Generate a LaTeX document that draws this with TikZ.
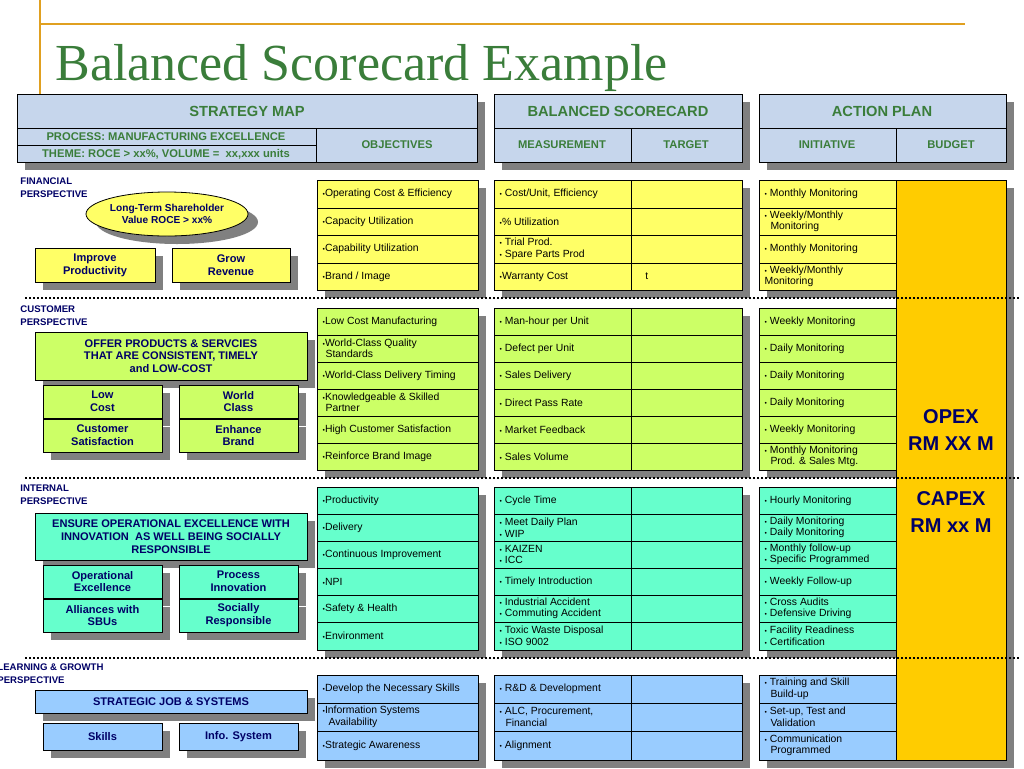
\documentclass[tikz,border=0pt]{standalone}
\usepackage{fontspec}
\setmainfont{Liberation Sans}
\newfontfamily\titlefont{Liberation Serif}
\definecolor{hdr}{HTML}{C6D6EC}
\definecolor{hgreen}{HTML}{3A7D3A}
\definecolor{yel}{HTML}{FFFF66}
\definecolor{lime}{HTML}{CCFF66}
\definecolor{aqua}{HTML}{66FFCC}
\definecolor{lblue}{HTML}{99CCFF}
\definecolor{orng}{HTML}{FFCC00}
\definecolor{navy}{HTML}{000066}
\definecolor{shd}{HTML}{808080}
\definecolor{tline}{HTML}{E0A020}
\newcommand\bu{{\fontsize{5}{5}\selectfont•}}
\newcommand\shbox[4]{\fill[shd] (#1+8,#2+8) rectangle (#3+8,#4+8);}
\newcommand\cell[6]{\draw[fill=#5] (#1,#2) rectangle (#3,#4);
  \node[celltxt] at (#1+4,{(#2+#4)/2}) {#6};}
\newcommand\lbox[6]{\fill[shd] (#1+8,#2+8) rectangle (#3+8,#4+8);
  \draw[fill=#5] (#1,#2) rectangle (#3,#4);
  \node[boxtxt] at ({(#1+#3)/2},{(#2+#4)/2}) {#6};}
\tikzset{
 celltxt/.style={anchor=west,align=left,font=\fontsize{7.8}{8.6}\selectfont,inner sep=1pt},
 boxtxt/.style={align=center,font=\fontsize{8.3}{9.6}\selectfont\bfseries,text=navy},
 htxt/.style={font=\fontsize{11}{12}\selectfont\bfseries,text=hgreen},
 stxt/.style={font=\fontsize{8.4}{9}\selectfont\bfseries,text=hgreen},
 persp/.style={anchor=north west,align=left,font=\fontsize{7.2}{10}\selectfont\bfseries,text=navy,inner sep=0pt},
 dots/.style={line width=1.6pt,dash pattern=on 1.6pt off 1.4pt}
}
\begin{document}
\begin{tikzpicture}[x=0.75pt,y=-0.75pt,line width=0.6pt]
\useasboundingbox (0,0) rectangle (1024,768);
% title
\draw[tline,line width=1pt] (40,24) -- (965,24);
\draw[tline,line width=1.5pt] (40,0) -- (40,95);
\node[anchor=base west,inner sep=0,text=hgreen,font=\titlefont\fontsize{39}{40}\selectfont] (title) at (55,80) {Balanced Scorecard Example};
% headers
\shbox{17}{94}{477}{162}
\shbox{494}{94}{742}{162}
\shbox{759}{94}{1006}{162}
\draw[fill=hdr] (17,94) rectangle (477,162);
\draw (17,128) -- (477,128) (316,128) -- (316,162) (17,145) -- (316,145);
\node[htxt] at (247,111) {STRATEGY MAP};
\node[stxt] at (166,137) {PROCESS: MANUFACTURING EXCELLENCE};
\node[stxt] at (166,154) {THEME: ROCE > xx\%, VOLUME =\ \ xx,xxx units};
\node[stxt] at (397,145) {OBJECTIVES};
\draw[fill=hdr] (494,94) rectangle (742,162);
\draw (494,128) -- (742,128) (631,128) -- (631,162);
\node[htxt] at (618,111) {BALANCED SCORECARD};
\node[stxt] at (562,145) {MEASUREMENT};
\node[stxt] at (686,145) {TARGET};
\draw[fill=hdr] (759,94) rectangle (1006,162);
\draw (759,128) -- (1006,128) (896,128) -- (896,162);
\node[htxt] at (882,111) {ACTION PLAN};
\node[stxt] at (827,145) {INITIATIVE};
\node[stxt] at (951,145) {BUDGET};
% shadows of blocks
\foreach \a/\b in {180/290,308/470,487/650,675/760}{
 \shbox{317}{\a}{478}{\b}
 \shbox{494}{\a}{742}{\b}
 \shbox{759}{\a}{896}{\b}
}
\shbox{896}{180}{1006}{760}
% orange budget column
\draw[fill=orng] (896,180) rectangle (1006,760);
\node[align=center,font=\fontsize{15}{20}\selectfont\bfseries,text=navy] (opex) at (951,430) {OPEX\\RM XX M};
\node[align=center,font=\fontsize{15}{20}\selectfont\bfseries,text=navy] (capex) at (951,512) {CAPEX\\RM xx M};
% financial
\cell{317}{180}{478}{208}{yel}{\bu Operating Cost \& Efficiency}
\cell{317}{208}{478}{235}{yel}{\bu Capacity Utilization}
\cell{317}{235}{478}{263}{yel}{\bu Capability Utilization}
\cell{317}{263}{478}{290}{yel}{\bu Brand / Image}
\cell{494}{180}{631}{208}{yel}{\bu\ Cost/Unit, Efficiency}
\cell{494}{208}{631}{235}{yel}{\bu\% Utilization}
\cell{494}{235}{631}{263}{yel}{\bu\ Trial Prod.\\\bu\ Spare Parts Prod}
\cell{494}{263}{631}{290}{yel}{\bu Warranty Cost}
\cell{631}{180}{742}{208}{yel}{}
\cell{631}{208}{742}{235}{yel}{}
\cell{631}{235}{742}{263}{yel}{}
\cell{631}{263}{742}{290}{yel}{\ \ \ t}
\cell{759}{180}{896}{208}{yel}{\bu\ Monthly Monitoring}
\cell{759}{208}{896}{235}{yel}{\bu\ Weekly/Monthly\\\ \ Monitoring}
\cell{759}{235}{896}{263}{yel}{\bu\ Monthly Monitoring}
\cell{759}{263}{896}{290}{yel}{\bu\ Weekly/Monthly\\Monitoring}
% customer
\cell{317}{308}{478}{335}{lime}{\bu Low Cost Manufacturing}
\cell{317}{335}{478}{362}{lime}{\bu World-Class Quality\\\ Standards}
\cell{317}{362}{478}{389}{lime}{\bu World-Class Delivery Timing}
\cell{317}{389}{478}{416}{lime}{\bu Knowledgeable \& Skilled\\\ Partner}
\cell{317}{416}{478}{443}{lime}{\bu High Customer Satisfaction}
\cell{317}{443}{478}{470}{lime}{\bu Reinforce Brand Image}
\cell{494}{308}{631}{335}{lime}{\bu\ Man-hour per Unit}
\cell{494}{335}{631}{362}{lime}{\bu\ Defect per Unit}
\cell{494}{362}{631}{389}{lime}{\bu\ Sales Delivery}
\cell{494}{389}{631}{416}{lime}{\bu\ Direct Pass Rate}
\cell{494}{416}{631}{443}{lime}{\bu\ Market Feedback}
\cell{494}{443}{631}{470}{lime}{\bu\ Sales Volume}
\foreach \a/\b in {308/335,335/362,362/389,389/416,416/443,443/470}{\cell{631}{\a}{742}{\b}{lime}{}}
\cell{759}{308}{896}{335}{lime}{\bu\ Weekly Monitoring}
\cell{759}{335}{896}{362}{lime}{\bu\ Daily Monitoring}
\cell{759}{362}{896}{389}{lime}{\bu\ Daily Monitoring}
\cell{759}{389}{896}{416}{lime}{\bu\ Daily Monitoring}
\cell{759}{416}{896}{443}{lime}{\bu\ Weekly Monitoring}
\cell{759}{443}{896}{470}{lime}{\bu\ Monthly Monitoring\\\ \ Prod. \& Sales Mtg.}
% internal
\cell{317}{487}{478}{514}{aqua}{\bu Productivity}
\cell{317}{514}{478}{541}{aqua}{\bu Delivery}
\cell{317}{541}{478}{568}{aqua}{\bu Continuous Improvement}
\cell{317}{568}{478}{595}{aqua}{\bu NPI}
\cell{317}{595}{478}{622}{aqua}{\bu Safety \& Health}
\cell{317}{622}{478}{650}{aqua}{\bu Environment}
\cell{494}{487}{631}{514}{aqua}{\bu\ Cycle Time}
\cell{494}{514}{631}{541}{aqua}{\bu\ Meet Daily Plan\\\bu\ WIP}
\cell{494}{541}{631}{568}{aqua}{\bu\ KAIZEN\\\bu\ ICC}
\cell{494}{568}{631}{595}{aqua}{\bu\ Timely Introduction}
\cell{494}{595}{631}{622}{aqua}{\bu\ Industrial Accident\\\bu\ Commuting Accident}
\cell{494}{622}{631}{650}{aqua}{\bu\ Toxic Waste Disposal\\\bu\ ISO 9002}
\foreach \a/\b in {487/514,514/541,541/568,568/595,595/622,622/650}{\cell{631}{\a}{742}{\b}{aqua}{}}
\cell{759}{487}{896}{514}{aqua}{\bu\ Hourly Monitoring}
\cell{759}{514}{896}{541}{aqua}{\bu\ Daily Monitoring\\\bu\ Daily Monitoring}
\cell{759}{541}{896}{568}{aqua}{\bu\ Monthly follow-up\\\bu\ Specific Programmed}
\cell{759}{568}{896}{595}{aqua}{\bu\ Weekly Follow-up}
\cell{759}{595}{896}{622}{aqua}{\bu\ Cross Audits\\\bu\ Defensive Driving}
\cell{759}{622}{896}{650}{aqua}{\bu\ Facility Readiness\\\bu\ Certification}
% learning
\cell{317}{675}{478}{703}{lblue}{\bu Develop the Necessary Skills}
\cell{317}{703}{478}{731}{lblue}{\bu Information Systems\\\ \ Availability}
\cell{317}{731}{478}{760}{lblue}{\bu Strategic Awareness}
\cell{494}{675}{631}{703}{lblue}{\bu\ R\&D \& Development}
\cell{494}{703}{631}{731}{lblue}{\bu\ ALC, Procurement,\\\ \ Financial}
\cell{494}{731}{631}{760}{lblue}{\bu\ Alignment}
\foreach \a/\b in {675/703,703/731,731/760}{\cell{631}{\a}{742}{\b}{lblue}{}}
\cell{759}{675}{896}{703}{lblue}{\bu\ Training and Skill\\\ \ Build-up}
\cell{759}{703}{896}{731}{lblue}{\bu\ Set-up, Test and\\\ \ Validation}
\cell{759}{731}{896}{760}{lblue}{\bu\ Communication\\\ \ Programmed}
% dotted separators
\foreach \y in {298,478,658}{\draw[dots] (25,\y) -- (1020,\y);}
% strategy map left side
\node[persp] (pf) at (20,177) {FINANCIAL\\PERSPECTIVE};
\fill[shd] (177,222) ellipse (81 and 22);
\draw[fill=yel] (167,214) ellipse (81 and 22);
\node[boxtxt,font=\fontsize{7.6}{9.4}\selectfont\bfseries] (lt) at (167,214) {Long-Term Shareholder\\Value ROCE > xx\%};
\lbox{35}{248}{155}{282}{yel}{Improve\\Productivity}
\lbox{172}{248}{290}{282}{yel}{Grow\\Revenue}
\node[persp] (pc) at (20,305) {CUSTOMER\\PERSPECTIVE};
\lbox{35}{332}{307}{380}{lime}{OFFER PRODUCTS \& SERVCIES\\THAT ARE CONSISTENT, TIMELY\\and LOW-COST}
\lbox{43}{385}{162}{418}{lime}{Low\\Cost}
\lbox{179}{385}{298}{418}{lime}{World\\Class}
\lbox{43}{419}{162}{452}{lime}{Customer\\Satisfaction}
\lbox{179}{419}{298}{452}{lime}{Enhance\\Brand}
\node[persp] (pi) at (20,484) {INTERNAL\\PERSPECTIVE};
\lbox{35}{513}{307}{560}{aqua}{ENSURE OPERATIONAL EXCELLENCE WITH\\INNOVATION\ \ AS WELL BEING SOCIALLY\\RESPONSIBLE}
\lbox{43}{565}{162}{598}{aqua}{Operational\\Excellence}
\lbox{179}{565}{298}{598}{aqua}{Process\\Innovation}
\lbox{43}{599}{162}{632}{aqua}{Alliances with\\SBUs}
\lbox{179}{599}{298}{632}{aqua}{Socially\\Responsible}
\node[persp] (pl) at (-3,663) {LEARNING \& GROWTH\\PERSPECTIVE};
\lbox{35}{690}{307}{713}{lblue}{STRATEGIC JOB \& SYSTEMS}
\lbox{43}{723}{162}{750}{lblue}{Skills}
\lbox{179}{723}{298}{750}{lblue}{Info. System}
\end{tikzpicture}
\end{document}
